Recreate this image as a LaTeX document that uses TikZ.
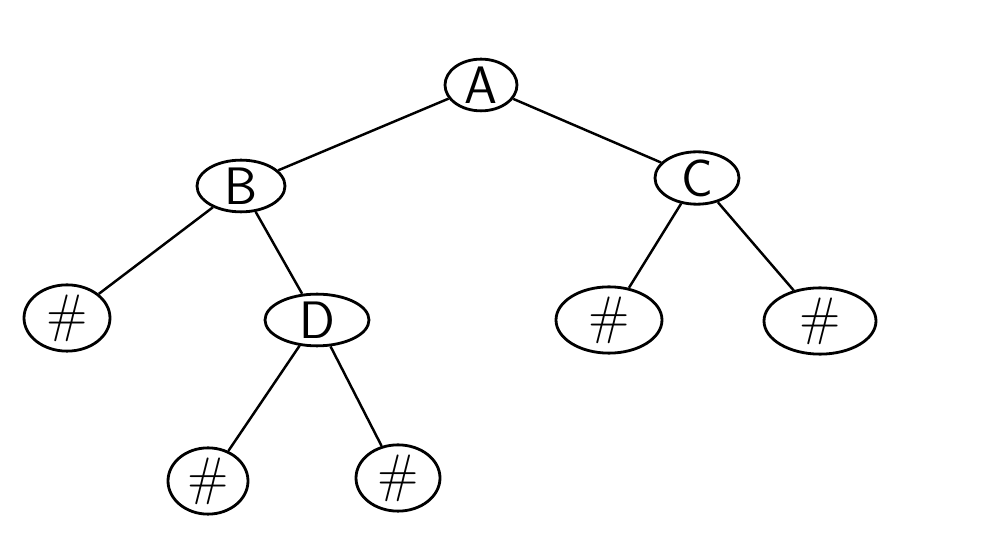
\documentclass[tikz,border=0pt]{standalone}
\usepackage{tikz}
\usetikzlibrary{shapes.geometric}

\tikzset{
  treenode/.style={ellipse, draw, line width=1.6pt, inner sep=0pt,
    minimum width=84\mypx, minimum height=48\mypx,
    font=\sffamily\fontsize{30}{30}\selectfont},
  treeedge/.style={line width=1.4pt}
}
\newcommand{\mypx}{*0.02cm}

\begin{document}
\begin{tikzpicture}[x=0.02cm, y=-0.02cm]

    % canvas
    \useasboundingbox (0,0) rectangle (1004,536);

    % inner nodes
    \node[treenode, minimum width=72\mypx, minimum height=50\mypx] (a) at (481,85) {A};
    \node[treenode, minimum width=88\mypx, minimum height=46\mypx] (b) at (241,186) {B};
    \node[treenode] (c) at (697,178) {C};
    \node[treenode, minimum width=104\mypx, minimum height=50\mypx] (d) at (317,320) {D};

    % empty leaves
    \node[treenode, minimum width=86\mypx, minimum height=58\mypx] (bl) at (67,318) {\#};
    \node[treenode, minimum width=106\mypx, minimum height=50\mypx] (cl) at (609,320) {\#};
    \node[treenode, minimum width=112\mypx, minimum height=52\mypx] (cr) at (820,321) {\#};
    \node[treenode, minimum width=80\mypx, minimum height=46\mypx] (dl) at (208,481) {\#};
    \node[treenode, minimum width=84\mypx, minimum height=48\mypx] (dr) at (398,478) {\#};

    % edges
    \draw[treeedge] (a) -- (b);
    \draw[treeedge] (a) -- (c);
    \draw[treeedge] (b) -- (bl);
    \draw[treeedge] (b) -- (d);
    \draw[treeedge] (c) -- (cl);
    \draw[treeedge] (c) -- (cr);
    \draw[treeedge] (d) -- (dl);
    \draw[treeedge] (d) -- (dr);

\end{tikzpicture}
\end{document}
